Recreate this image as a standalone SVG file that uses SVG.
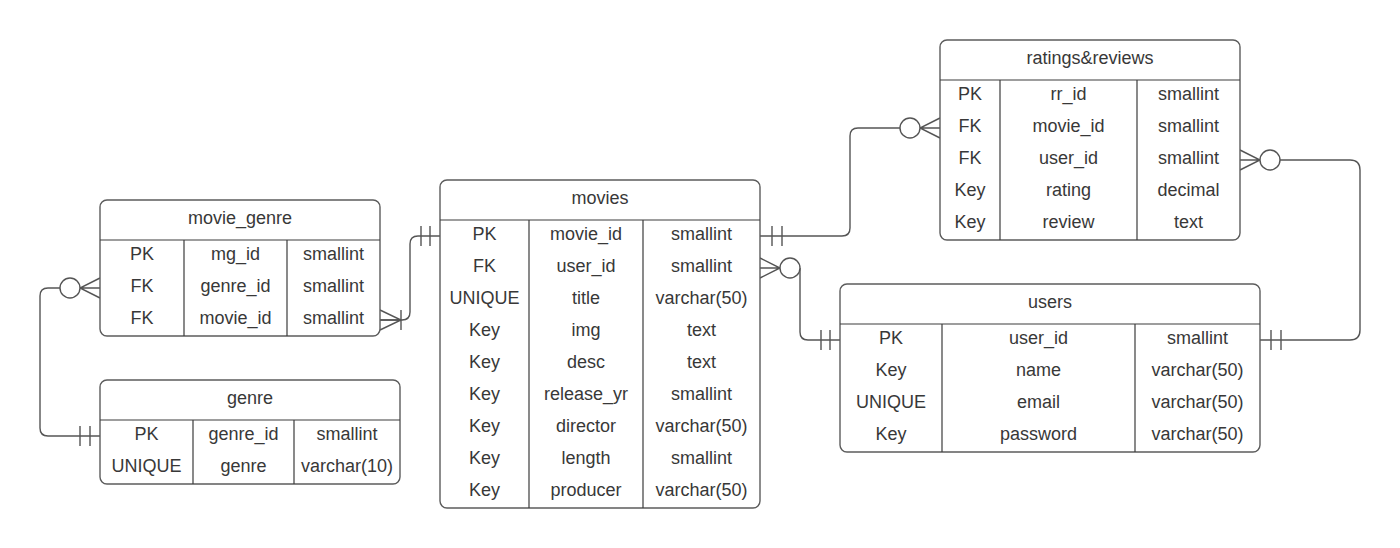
<svg xmlns="http://www.w3.org/2000/svg" width="1400" height="548" viewBox="0 0 1400 548">
<style>
.box{fill:#fff;stroke:#5c5c5c;stroke-width:1.4}
.ln{stroke:#3d3d3d;stroke-width:1.2;fill:none}
.t{font-family:"Liberation Sans",Arial,sans-serif;font-size:18px;fill:#383838;text-anchor:middle}
.c{stroke:#555;stroke-width:1.4;fill:none}
.o{stroke:#555;stroke-width:1.4;fill:#fff}
</style>
<rect width="1400" height="548" fill="#fff"/>
<g id="connectors">
<path class="c" d="M380,320 H402 Q410,320 410,312 V244 Q410,236 418,236 H440"/>
<path class="c" d="M380,310 L401,320 L380,330 M380,320 H401 M401,310 V330 M421,226 V246 M430,226 V246"/>
<path class="c" d="M60,288 H48 Q40,288 40,296 V428 Q40,436 48,436 H100"/>
<path class="c" d="M100,278 L80,288 L100,298 M100,288 H80 M80,426 V446 M90,426 V446"/>
<circle class="o" cx="70" cy="288" r="10"/>
<path class="c" d="M760,236 H842 Q850,236 850,228 V136 Q850,128 858,128 H900"/>
<path class="c" d="M940,118 L920,128 L940,138 M940,128 H920 M772,226 V246 M782,226 V246"/>
<circle class="o" cx="910" cy="128" r="10"/>
<path class="c" d="M800,268 V332 Q800,340 808,340 H840"/>
<path class="c" d="M760,258 L780,268 L760,278 M760,268 H780 M821,330 V350 M830,330 V350"/>
<circle class="o" cx="790" cy="268" r="10"/>
<path class="c" d="M1280,160 H1350 Q1360,160 1360,170 V330 Q1360,340 1350,340 H1260"/>
<path class="c" d="M1240,150 L1260,160 L1240,170 M1240,160 H1260 M1271,330 V350 M1281,330 V350"/>
<circle class="o" cx="1270" cy="160" r="10"/>
</g>
<g id="movie_genre">
<rect class="box" x="100" y="200" width="280" height="136" rx="7"/>
<path class="ln" d="M100,240 H380 M184,240 V336 M287,240 V336"/>
<text class="t" x="240" y="224">movie_genre</text>
<text class="t" x="142" y="260">PK</text><text class="t" x="235.5" y="260">mg_id</text><text class="t" x="333.5" y="260">smallint</text>
<text class="t" x="142" y="292">FK</text><text class="t" x="235.5" y="292">genre_id</text><text class="t" x="333.5" y="292">smallint</text>
<text class="t" x="142" y="324">FK</text><text class="t" x="235.5" y="324">movie_id</text><text class="t" x="333.5" y="324">smallint</text>
</g>
<g id="genre">
<rect class="box" x="100" y="380" width="300" height="104" rx="7"/>
<path class="ln" d="M100,420 H400 M193,420 V484 M294,420 V484"/>
<text class="t" x="250" y="404">genre</text>
<text class="t" x="146.5" y="440">PK</text><text class="t" x="243.5" y="440">genre_id</text><text class="t" x="347" y="440">smallint</text>
<text class="t" x="146.5" y="472">UNIQUE</text><text class="t" x="243.5" y="472">genre</text><text class="t" x="347" y="472">varchar(10)</text>
</g>
<g id="movies">
<rect class="box" x="440" y="180" width="320" height="328" rx="7"/>
<path class="ln" d="M440,220 H760 M529,220 V508 M643,220 V508"/>
<text class="t" x="600" y="204">movies</text>
<text class="t" x="484.5" y="240">PK</text><text class="t" x="586" y="240">movie_id</text><text class="t" x="701.5" y="240">smallint</text>
<text class="t" x="484.5" y="272">FK</text><text class="t" x="586" y="272">user_id</text><text class="t" x="701.5" y="272">smallint</text>
<text class="t" x="484.5" y="304">UNIQUE</text><text class="t" x="586" y="304">title</text><text class="t" x="701.5" y="304">varchar(50)</text>
<text class="t" x="484.5" y="336">Key</text><text class="t" x="586" y="336">img</text><text class="t" x="701.5" y="336">text</text>
<text class="t" x="484.5" y="368">Key</text><text class="t" x="586" y="368">desc</text><text class="t" x="701.5" y="368">text</text>
<text class="t" x="484.5" y="400">Key</text><text class="t" x="586" y="400">release_yr</text><text class="t" x="701.5" y="400">smallint</text>
<text class="t" x="484.5" y="432">Key</text><text class="t" x="586" y="432">director</text><text class="t" x="701.5" y="432">varchar(50)</text>
<text class="t" x="484.5" y="464">Key</text><text class="t" x="586" y="464">length</text><text class="t" x="701.5" y="464">smallint</text>
<text class="t" x="484.5" y="496">Key</text><text class="t" x="586" y="496">producer</text><text class="t" x="701.5" y="496">varchar(50)</text>
</g>
<g id="ratings_reviews">
<rect class="box" x="940" y="40" width="300" height="200" rx="7"/>
<path class="ln" d="M940,80 H1240 M1000,80 V240 M1137,80 V240"/>
<text class="t" x="1090" y="64">ratings&amp;reviews</text>
<text class="t" x="970" y="100">PK</text><text class="t" x="1068.5" y="100">rr_id</text><text class="t" x="1188.5" y="100">smallint</text>
<text class="t" x="970" y="132">FK</text><text class="t" x="1068.5" y="132">movie_id</text><text class="t" x="1188.5" y="132">smallint</text>
<text class="t" x="970" y="164">FK</text><text class="t" x="1068.5" y="164">user_id</text><text class="t" x="1188.5" y="164">smallint</text>
<text class="t" x="970" y="196">Key</text><text class="t" x="1068.5" y="196">rating</text><text class="t" x="1188.5" y="196">decimal</text>
<text class="t" x="970" y="228">Key</text><text class="t" x="1068.5" y="228">review</text><text class="t" x="1188.5" y="228">text</text>
</g>
<g id="users">
<rect class="box" x="840" y="284" width="420" height="168" rx="7"/>
<path class="ln" d="M840,324 H1260 M942,324 V452 M1135,324 V452"/>
<text class="t" x="1050" y="308">users</text>
<text class="t" x="891" y="344">PK</text><text class="t" x="1038.5" y="344">user_id</text><text class="t" x="1197.5" y="344">smallint</text>
<text class="t" x="891" y="376">Key</text><text class="t" x="1038.5" y="376">name</text><text class="t" x="1197.5" y="376">varchar(50)</text>
<text class="t" x="891" y="408">UNIQUE</text><text class="t" x="1038.5" y="408">email</text><text class="t" x="1197.5" y="408">varchar(50)</text>
<text class="t" x="891" y="440">Key</text><text class="t" x="1038.5" y="440">password</text><text class="t" x="1197.5" y="440">varchar(50)</text>
</g>
</svg>
